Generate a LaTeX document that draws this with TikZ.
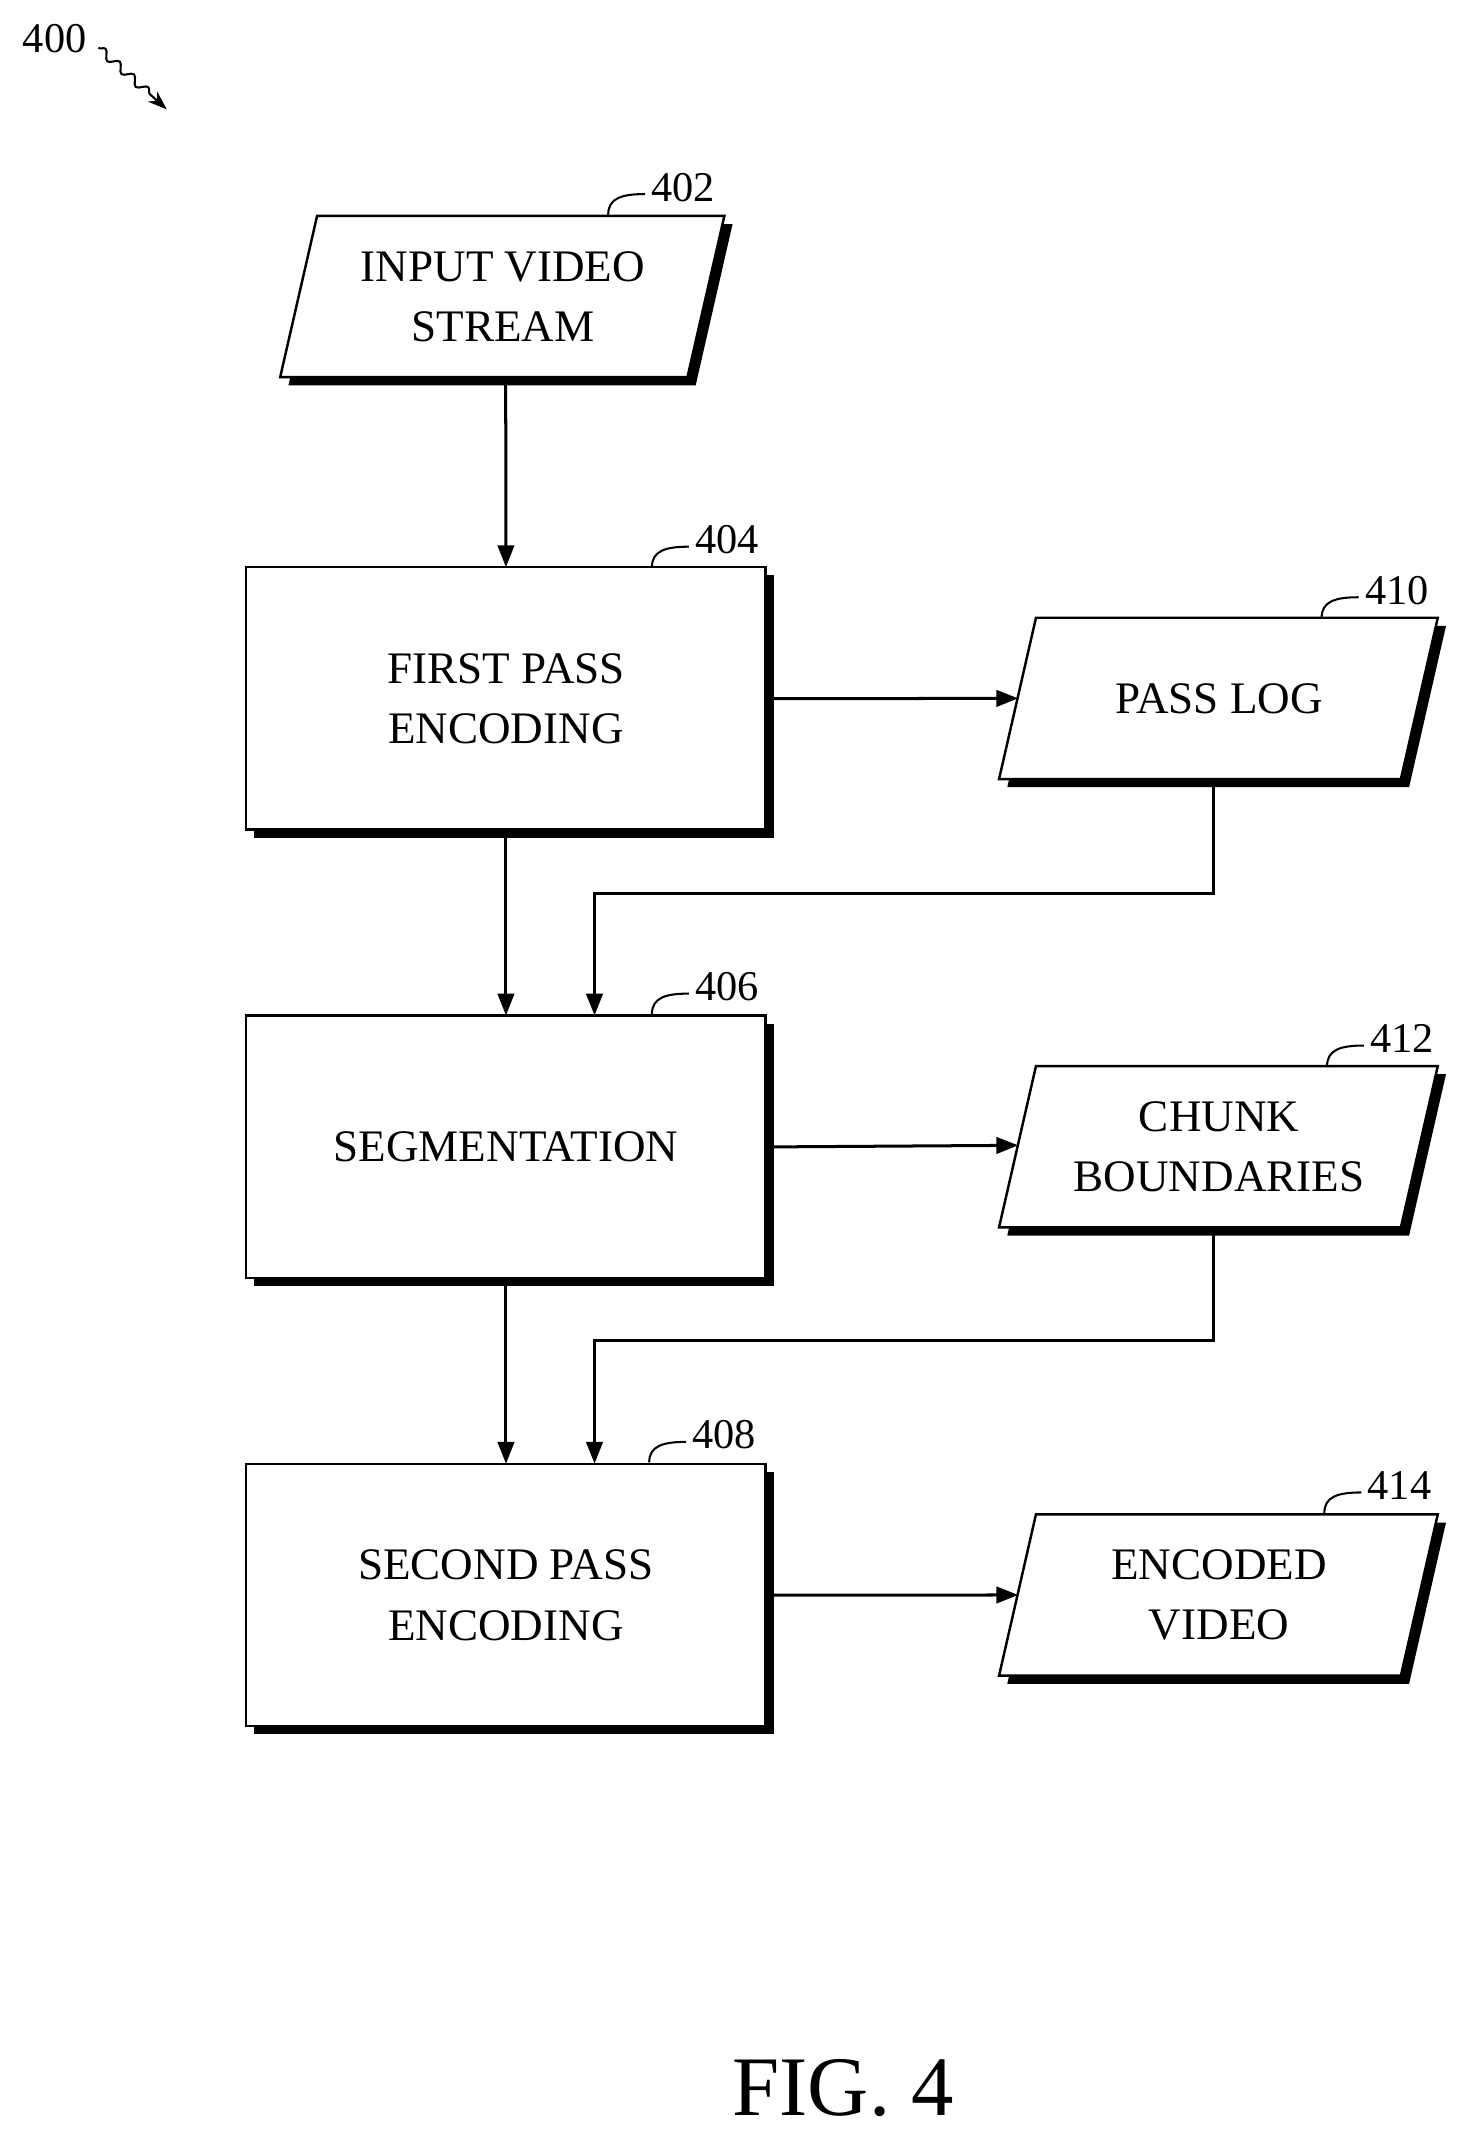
\documentclass[tikz,border=0pt]{standalone}
\usepackage{fontspec}
\setmainfont{Liberation Serif}
\usetikzlibrary{arrows.meta,decorations.pathmorphing}
\begin{document}
\begin{tikzpicture}[x=1pt,y=-1pt,
  txt/.style={font=\fontsize{33}{44}\selectfont,align=center,inner sep=0},
  lab/.style={font=\fontsize{31}{36}\selectfont,inner sep=0},
  ln/.style={line width=2.2pt},
  arr/.style={ln,-{Triangle[length=16pt,width=12pt]}},
  sh/.style={fill=black},
  bx/.style={fill=white,draw,line width=1.8pt}]
\useasboundingbox (0,0) rectangle (1075,1568);
% boxes
\foreach \n/\y/\t in {b404/415/{FIRST PASS\\ENCODING},b406/743/{SEGMENTATION},b408/1071/{SECOND PASS\\ENCODING}}{
  \fill[sh] (186,\y+6) rectangle (566,\y+198);
  \draw[bx] (180,\y) rectangle (560,\y+192);
  \node[txt,minimum width=380pt,minimum height=192pt,anchor=north west] (\n) at (180,\y) {\t};
}
% parallelograms
\newcommand\pgram[5]{% name, xleft-top, ytop, width, text
  \fill[sh] (#2+6,#3+6) -- (#2+#4+6,#3+6) -- (#2+#4-21,#3+124) -- (#2-21,#3+124) -- cycle;
  \draw[bx] (#2,#3) -- (#2+#4,#3) -- (#2+#4-27,#3+118) -- (#2-27,#3+118) -- cycle;
  \node[txt] (#1) at (#2+#4/2-13,#3+59) {#5};}
\pgram{p402}{232}{158}{298}{INPUT VIDEO\\STREAM}
\pgram{p410}{758}{452}{294}{PASS LOG}
\pgram{p412}{758}{780}{294}{CHUNK\\BOUNDARIES}
\pgram{p414}{758}{1108}{294}{ENCODED\\VIDEO}
% reference labels
\foreach \x/\y/\t in {500/137/402,532/395/404,1022/432/410,532/722/406,1026/760/412,530/1050/408,1024/1087/414}{
  \node[lab] (l\t) at (\x,\y) {\t};
  \draw[line width=1.5pt] (\x-55,\y+20) .. controls (\x-55,\y+8) and (\x-45,\y+5) .. (\x-28,\y+5);
}
\node[lab] (l400) at (40,28) {400};
\coordinate (a400) at (122,80);
\draw[line width=1.5pt,decorate,decoration={snake,amplitude=3pt,segment length=14pt,post length=14pt},-{Stealth[length=14pt,width=10pt]}] (72,35) -- (a400);
% connectors
\coordinate (c1) at (888,654); \coordinate (c2) at (435,654);
\coordinate (c3) at (888,981); \coordinate (c4) at (435,981);
\draw[arr] (370,278) -- (b404.north);
\draw[arr] (b404.south) -- (b406.north);
\draw[arr] (b406.south) -- (b408.north);
\draw[arr] (b404.east) -- (745,511);
\draw[arr] (b406.east) -- (745,838);
\draw[arr] (b408.east) -- (745,1167);
\draw[arr] (888,572) -- (c1) -- (c2) -- (435,743);
\draw[arr] (888,900) -- (c3) -- (c4) -- (435,1071);
\node[font=\fontsize{62}{70}\selectfont,inner sep=0] (fig) at (617,1528) {FIG. 4};
\end{tikzpicture}
\end{document}
